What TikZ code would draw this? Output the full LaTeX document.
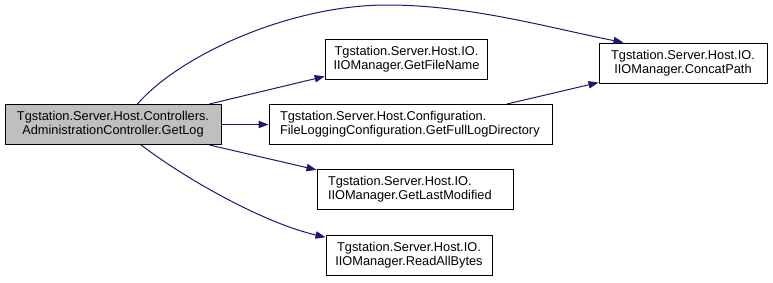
\documentclass[tikz,border=0pt]{standalone}
\usepackage{fontspec}
\setmainfont{Liberation Sans}
\usetikzlibrary{arrows.meta}

\definecolor{edgeblue}{HTML}{191970}
\definecolor{callergray}{HTML}{BFBFBF}

\tikzset{
	fn/.style = {draw, line width=0.75pt, minimum height=30pt, inner sep=0pt,
		align=center, font=\fontsize{9.6}{10.5}\selectfont},
	fnleft/.style = {fn, align=left, inner xsep=8.25pt, text width=#1},
}

\begin{document}
\begin{tikzpicture}[x=0.75pt, y=-0.75pt]
		\useasboundingbox (0,0) rectangle (773,282);

		\node [fn, fill=callergray, minimum width=162pt] (log) at (113,124.5)
			{Tgstation.Server.Host.Controllers.\\AdministrationController.GetLog};

		\node [fn, minimum width=122pt] (filename) at (406.5,59)
			{Tgstation.Server.Host.IO.\\IIOManager.GetFileName};
		\node [fnleft=195.75pt] (logdir) at (410.5,124.5)
			{Tgstation.Server.Host.Configuration.\\FileLoggingConfiguration.GetFullLogDirectory};
		\node [fnleft=130.5pt] (lastmod) at (415,189)
			{Tgstation.Server.Host.IO.\\IIOManager.GetLastModified};
		\node [fn, minimum width=124.5pt] (readall) at (409,255)
			{Tgstation.Server.Host.IO.\\IIOManager.ReadAllBytes};

		\node [fn, minimum width=126pt] (concat) at (683,63)
			{Tgstation.Server.Host.IO.\\IIOManager.ConcatPath};

		\begin{scope}[draw=edgeblue, line width=0.75pt, -{Triangle[length=7.5pt, width=5.5pt]}]
			\draw (log.40.5) .. controls (180,55) and (290,5) .. (387,5)
				.. controls (470,5) and (550,28) .. (concat.161.8);
			\draw (log.12.3) -- (filename.192.5);
			\draw (log.east) -- (logdir.west);
			\draw (log.-12.3) -- (lastmod.169.6);
			\draw (log.-36.5) .. controls (180,175) and (260,222) .. (readall.168.4);
			\draw (logdir.12.3) -- (concat.193.5);
		\end{scope}
	\end{tikzpicture}
\end{document}
